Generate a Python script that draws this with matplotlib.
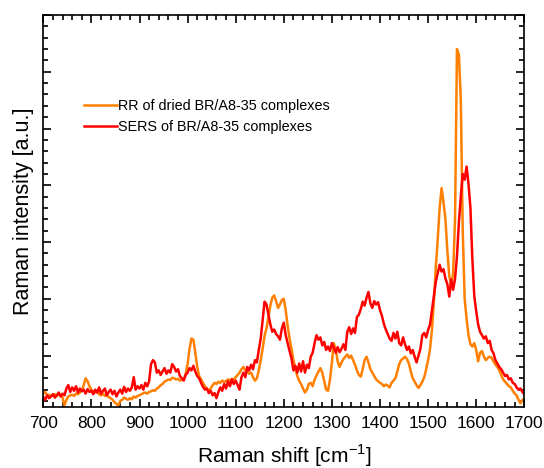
import numpy as np
import matplotlib
matplotlib.use("Agg")
import matplotlib.pyplot as plt
from matplotlib.ticker import MultipleLocator, NullFormatter

plt.rcParams['font.family'] = ['Liberation Sans', 'DejaVu Sans']
plt.rcParams['mathtext.fontset'] = 'custom'
plt.rcParams['mathtext.rm'] = 'Liberation Sans'

# Raman shift grid [cm^-1], spectra sampled every 4 cm^-1
shift = np.arange(700, 1701, 4)

# RR of dried BR/A8-35 complexes (orange)
rr_int = [
    0.33, 0.36, 0.30, 0.31, 0.28, 0.30, 0.32, 0.29, 0.33, 0.30, 0.26, 0.12, 0.22, 0.28, 0.30, 0.31, 0.29, 0.33, 0.32, 0.35, 0.38, 0.48, 0.60, 0.55, 0.46,
    0.40, 0.37, 0.35, 0.36, 0.32, 0.30, 0.33, 0.29, 0.30, 0.27, 0.25, 0.22, 0.18, 0.15, 0.12, 0.20, 0.22, 0.26, 0.24, 0.22, 0.25, 0.23, 0.28, 0.26, 0.29,
    0.30, 0.32, 0.34, 0.35, 0.33, 0.36, 0.37, 0.39, 0.38, 0.42, 0.44, 0.48, 0.50, 0.54, 0.56, 0.58, 0.57, 0.61, 0.60, 0.58, 0.59, 0.56, 0.57, 0.58, 0.68,
    0.85, 1.12, 1.30, 1.28, 1.05, 0.80, 0.64, 0.58, 0.52, 0.46, 0.42, 0.38, 0.42, 0.48, 0.52, 0.50, 0.54, 0.52, 0.56, 0.54, 0.55, 0.58, 0.56, 0.59, 0.58,
    0.62, 0.66, 0.70, 0.76, 0.80, 0.74, 0.72, 0.68, 0.70, 0.62, 0.56, 0.60, 0.74, 0.92, 1.12, 1.35, 1.48, 1.68, 1.88, 2.02, 2.06, 1.96, 1.84, 1.90, 1.98,
    2.00, 1.80, 1.52, 1.30, 1.12, 0.92, 0.78, 0.64, 0.55, 0.50, 0.42, 0.35, 0.40, 0.50, 0.52, 0.46, 0.58, 0.65, 0.72, 0.78, 0.70, 0.55, 0.40, 0.38, 0.58,
    0.88, 1.22, 1.10, 0.90, 0.80, 0.88, 0.94, 0.98, 1.02, 0.96, 1.00, 0.92, 0.84, 0.74, 0.66, 0.63, 0.76, 0.92, 0.98, 0.88, 0.76, 0.70, 0.64, 0.58, 0.55,
    0.52, 0.50, 0.46, 0.49, 0.47, 0.44, 0.52, 0.56, 0.60, 0.72, 0.85, 0.92, 0.95, 0.98, 0.94, 0.86, 0.72, 0.60, 0.54, 0.48, 0.43, 0.48, 0.54, 0.62, 0.76,
    0.92, 1.12, 1.45, 1.95, 2.55, 3.05, 3.60, 3.95, 3.70, 3.40, 2.85, 2.40, 2.22, 2.45, 3.40, 6.40, 6.30, 5.50, 3.20, 2.00, 1.65, 1.36, 1.20, 1.16, 1.22,
    1.10, 0.90, 1.05, 1.08, 0.98, 0.92, 0.96, 0.98, 0.96, 0.90, 0.84, 0.80, 0.74, 0.66, 0.58, 0.54, 0.50, 0.46, 0.44, 0.38, 0.33, 0.30, 0.22, 0.16, 0.22,
    0.24,
]

# SERS of BR/A8-35 complexes (red)
sers_int = [
    0.27, 0.22, 0.30, 0.25, 0.28, 0.32, 0.26, 0.30, 0.35, 0.28, 0.33, 0.30, 0.42, 0.48, 0.36, 0.44, 0.38, 0.46, 0.35, 0.42, 0.37, 0.40, 0.33, 0.41, 0.36,
    0.38, 0.32, 0.40, 0.35, 0.44, 0.33, 0.38, 0.42, 0.30, 0.36, 0.40, 0.32, 0.38, 0.28, 0.35, 0.40, 0.33, 0.45, 0.36, 0.42, 0.38, 0.44, 0.62, 0.40, 0.46,
    0.42, 0.48, 0.40, 0.52, 0.46, 0.55, 0.85, 0.92, 0.88, 0.70, 0.74, 0.66, 0.72, 0.78, 0.68, 0.74, 0.70, 0.85, 0.80, 0.72, 0.76, 0.64, 0.60, 0.56, 0.66,
    0.70, 0.78, 0.74, 0.82, 0.72, 0.64, 0.60, 0.52, 0.45, 0.40, 0.42, 0.34, 0.38, 0.30, 0.34, 0.25, 0.36, 0.44, 0.38, 0.50, 0.42, 0.55, 0.46, 0.58, 0.50,
    0.56, 0.48, 0.40, 0.62, 0.70, 0.62, 0.80, 0.74, 0.84, 0.76, 0.92, 0.88, 1.10, 1.30, 1.62, 1.95, 1.90, 1.72, 1.55, 1.42, 1.46, 1.38, 1.34, 1.28, 1.48,
    1.58, 1.36, 1.22, 1.08, 0.95, 0.74, 0.82, 0.70, 0.86, 0.72, 0.90, 0.70, 0.84, 0.78, 0.98, 1.05, 1.22, 1.36, 1.28, 1.32, 1.18, 1.24, 1.10, 1.16, 1.08,
    1.22, 1.14, 1.05, 1.15, 1.06, 1.12, 1.20, 1.10, 1.42, 1.50, 1.38, 1.48, 1.40, 1.68, 1.72, 1.82, 1.95, 1.88, 2.02, 2.12, 1.92, 1.84, 1.96, 1.90, 1.94,
    1.80, 1.70, 1.56, 1.46, 1.38, 1.30, 1.26, 1.40, 1.30, 1.42, 1.22, 1.18, 1.32, 1.20, 1.10, 1.16, 1.04, 1.10, 0.98, 0.88, 1.00, 1.12, 1.36, 1.40, 1.32,
    1.45, 1.55, 1.80, 2.05, 2.30, 2.45, 2.60, 2.48, 2.52, 2.36, 2.26, 2.04, 2.34, 2.16, 2.35, 2.75, 3.35, 3.80, 4.20, 4.10, 4.33, 4.02, 3.60, 2.70, 2.05,
    1.78, 1.55, 1.42, 1.36, 1.30, 1.34, 1.22, 1.26, 1.10, 1.04, 0.92, 0.86, 0.80, 0.76, 0.70, 0.64, 0.66, 0.58, 0.60, 0.52, 0.50, 0.44, 0.40, 0.42, 0.36,
    0.32,
]

fig = plt.figure(figsize=(5.44, 4.68), dpi=100)
ax = fig.add_axes([0.0796, 0.131, 0.8842, 0.837])

ax.plot(shift, rr_int, color='#ff8000', lw=1.8, label='RR of dried BR/A8-35 complexes')
ax.plot(shift, sers_int, color='#ff0000', lw=1.8, label='SERS of BR/A8-35 complexes')

ax.set_xlim(700, 1700)
ax.set_ylim(0.1, 7.0)
ax.xaxis.set_major_locator(MultipleLocator(100))
ax.xaxis.set_minor_locator(MultipleLocator(20))
ax.yaxis.set_major_locator(MultipleLocator(1))
ax.yaxis.set_minor_locator(MultipleLocator(0.2))
ax.yaxis.set_major_formatter(NullFormatter())
ax.tick_params(which='both', direction='in', top=True, right=True, width=1.2)
ax.tick_params(which='major', length=6, labelsize=12.5, pad=7)
ax.tick_params(which='minor', length=3.5)
for s in ax.spines.values():
    s.set_linewidth(1.2)

ax.set_xlabel('Raman shift [cm$^{\\mathregular{-1}}$]', fontsize=15, labelpad=8)
ax.set_ylabel('Raman intensity [a.u.]', fontsize=15.5, labelpad=0)

ax.legend(loc='upper left', bbox_to_anchor=(0.072, 0.80), frameon=False, fontsize=10.4,
          handlelength=2.3, handletextpad=0.05, labelspacing=0.45, borderaxespad=0)

fig.savefig('out.png', dpi=100)
